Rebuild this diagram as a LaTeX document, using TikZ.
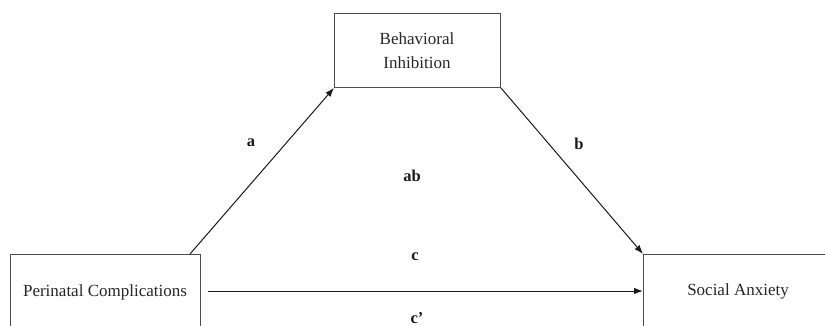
\documentclass[tikz,border=0pt]{standalone}
\usepackage{fontspec}
\setmainfont{Liberation Serif}
\usetikzlibrary{arrows.meta}
\begin{document}
\begin{tikzpicture}[x=1pt,y=-1pt,
  boxline/.style={draw=black!70,line width=0.9pt},
  conn/.style={draw=black!90,line width=1pt,-{Latex[length=9pt,width=6.5pt]}},
  lbl/.style={font=\fontsize{16.5}{20}\selectfont\bfseries,text=black!90,inner sep=0pt},
  boxtext/.style={font=\fontsize{17}{24}\selectfont,text=black!85,align=center}]
\useasboundingbox (0,0) rectangle (825,326);
% top box
\node[boxline,minimum width=166pt,minimum height=74pt,inner sep=0pt,anchor=north west] (bi) at (334,13) {};
\node[boxtext] (bitext) at (417,51) {Behavioral\\Inhibition};
% left box (open at bottom)
\coordinate (pctl) at (10,254);
\coordinate (pctr) at (200,254);
\draw[boxline] (10,330) -- (pctl) -- (pctr) -- (200,330);
\node[boxtext] (pc) at (105,292) {Perinatal Complications};
% right box (open at right and bottom)
\coordinate (satl) at (643,254);
\draw[boxline] (643,330) -- (satl) -- (830,254);
\node[boxtext] (sa) at (738,291) {Social Anxiety};
% connectors
\coordinate (astart) at (190,254);
\coordinate (cstart) at (208,291);
\coordinate (cend) at (643,291);
\draw[conn] (astart) -- (bi.south west);
\draw[conn] (bi.south east) -- (satl);
\draw[conn] (cstart) -- (cend);
% labels
\node[lbl] (la) at (251,143) {a};
\node[lbl] (lb) at (579,144) {b};
\node[lbl] (lab) at (412,176) {ab};
\node[lbl] (lc) at (415,257) {c};
\node[lbl,anchor=base] (lcp) at (417,323) {c’};
\end{tikzpicture}
\end{document}
